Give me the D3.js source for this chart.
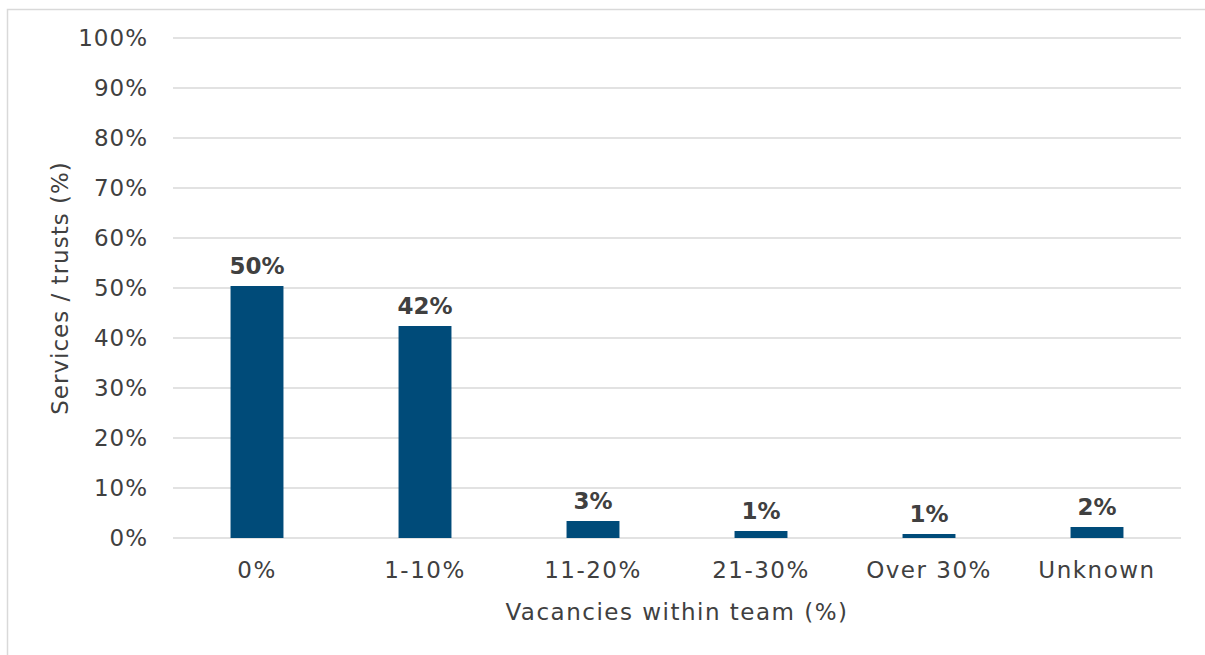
<!DOCTYPE html>
<html>
<head>
<meta charset="utf-8">
<script src="https://cdn.jsdelivr.net/npm/d3@7"></script>
<style>
  body { margin: 0; background: #fff; }
  svg { display: block; }
</style>
</head>
<body>
<script>
const categories = ['0%', '1-10%', '11-20%', '21-30%', 'Over 30%', 'Unknown']
const values = [50.4, 42.4, 3.4, 1.4, 0.8, 2.2]
const valueLabels = ['50%', '42%', '3%', '1%', '1%', '2%']
const yTicks = [0, 10, 20, 30, 40, 50, 60, 70, 80, 90, 100]

const width = 1205
const height = 655
const margin = { top: 38, right: 24, bottom: 117, left: 173 }
const font = '"DejaVu Sans", sans-serif'
const textColor = '#404040'

const svg = d3.select('body').append('svg')
    .attr('width', width)
    .attr('height', height)

// outer chart border
svg.append('rect')
    .attr('x', 7.5)
    .attr('y', 9.5)
    .attr('width', 1205)
    .attr('height', 660)
    .attr('fill', 'none')
    .attr('stroke', '#d9d9d9')
    .attr('stroke-width', 1.5)

const x = d3.scaleBand()
    .domain(categories)
    .range([margin.left, width - margin.right])
    .paddingInner(0.685)
    .paddingOuter(0.3425)

const y = d3.scaleLinear()
    .domain([0, 100])
    .range([height - margin.bottom, margin.top])

// gridlines
svg.append('g')
    .selectAll('line')
    .data(yTicks)
    .join('line')
    .attr('x1', margin.left)
    .attr('x2', width - margin.right)
    .attr('y1', d => y(d))
    .attr('y2', d => y(d))
    .attr('stroke', '#d9d9d9')
    .attr('stroke-width', 1.5)

// y axis labels
const yAxis = svg.append('g')
    .attr('transform', `translate(${margin.left - 25},0)`)
    .call(d3.axisLeft(y).tickValues(yTicks).tickFormat(d => d + '%').tickSize(0).tickPadding(0))
yAxis.select('.domain').remove()
yAxis.selectAll('text')
    .style('font-family', font)
    .style('font-size', '23px')
    .style('letter-spacing', '1px')
    .attr('fill', textColor)

// x axis labels
const xAxis = svg.append('g')
    .attr('transform', `translate(0,${height - margin.bottom})`)
    .call(d3.axisBottom(x).tickSize(0).tickPadding(24))
xAxis.select('.domain').remove()
xAxis.selectAll('text')
    .style('font-family', font)
    .style('font-size', '23px')
    .style('letter-spacing', '1.5px')
    .attr('fill', textColor)

// bars
svg.append('g')
    .selectAll('rect')
    .data(values)
    .join('rect')
    .attr('x', (d, i) => x(categories[i]))
    .attr('y', d => y(d))
    .attr('width', x.bandwidth())
    .attr('height', d => y(0) - y(d))
    .attr('fill', '#004b79')

// value labels
svg.append('g')
    .selectAll('text')
    .data(values)
    .join('text')
    .attr('x', (d, i) => x(categories[i]) + x.bandwidth() / 2)
    .attr('y', d => y(d) - 12)
    .attr('text-anchor', 'middle')
    .style('font-family', font)
    .style('font-size', '23px')
    .style('font-weight', 'bold')
    .attr('fill', textColor)
    .text((d, i) => valueLabels[i])

// axis titles
svg.append('text')
    .attr('x', (margin.left + width - margin.right) / 2)
    .attr('y', 620)
    .attr('text-anchor', 'middle')
    .style('font-family', font)
    .style('font-size', '23px')
    .style('letter-spacing', '1.5px')
    .attr('fill', textColor)
    .text('Vacancies within team (%)')

svg.append('text')
    .attr('transform', `translate(68,${y(50)}) rotate(-90)`)
    .attr('text-anchor', 'middle')
    .style('font-family', font)
    .style('font-size', '23px')
    .style('letter-spacing', '1px')
    .attr('fill', textColor)
    .text('Services / trusts (%)')
</script>
</body>
</html>
